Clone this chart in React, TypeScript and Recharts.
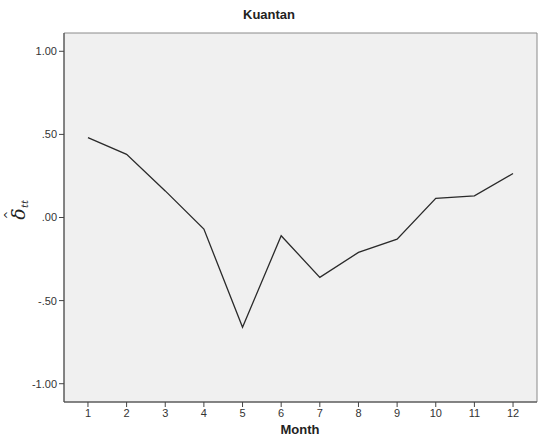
import React from "react";
import {
  LineChart,
  Line,
  XAxis,
  YAxis,
  ReferenceArea,
  Customized,
} from "recharts";

// Kuantan monthly values
const months = [1, 2, 3, 4, 5, 6, 7, 8, 9, 10, 11, 12];
const deltaValues = [0.48, 0.38, 0.16, -0.07, -0.66, -0.11, -0.36, -0.21, -0.13, 0.115, 0.13, 0.265];
const yTicks = [-1, -0.5, 0, 0.5, 1];

const data = months.map((m, i) => ({ month: m, delta: deltaValues[i] }));

const X_DOMAIN: [number, number] = [0.38, 12.62];
const Y_DOMAIN: [number, number] = [-1.11, 1.11];

// SPSS style: drop the leading zero, ".50" / "-.50"
const fmtY = (v: number) => v.toFixed(2).replace(/^(-?)0\./, "$1.");

const font = "Arial, 'Liberation Sans', sans-serif";

export default function App() {
  return (
    <div style={{ position: "absolute", left: 0, top: 0, background: "#fff" }}>
      <LineChart width={538} height={439} data={data} margin={{ top: 33, right: 1, bottom: 7, left: 0 }}>
        <ReferenceArea
          x1={X_DOMAIN[0]}
          x2={X_DOMAIN[1]}
          y1={Y_DOMAIN[0]}
          y2={Y_DOMAIN[1]}
          fill="#f0f0f0"
          fillOpacity={1}
          stroke="#8a8a8a"
          strokeWidth={1}
        />
        <XAxis
          dataKey="month"
          type="number"
          domain={X_DOMAIN}
          ticks={months}
          allowDataOverflow
          height={30}
          stroke="#444"
          tickSize={5}
          tick={{ fill: "#333", fontSize: 11, fontFamily: font }}
        />
        <YAxis
          type="number"
          domain={Y_DOMAIN}
          ticks={yTicks}
          allowDataOverflow
          width={64}
          stroke="#444"
          tickSize={5}
          tickFormatter={fmtY}
          tick={{ fill: "#333", fontSize: 11, fontFamily: font }}
        />
        <Line
          type="linear"
          dataKey="delta"
          stroke="#2a2a2a"
          strokeWidth={1.3}
          dot={false}
          isAnimationActive={false}
        />
        <Customized
          component={() => (
            <g>
              <text x={269} y={19} textAnchor="middle" fontFamily={font} fontSize={13} fontWeight="bold" fill="#222">
                Kuantan
              </text>
              <text x={300} y={434} textAnchor="middle" fontFamily={font} fontSize={13} fontWeight="bold" fill="#222">
                Month
              </text>
              {/* y label: delta-hat with subscript tt, rotated */}
              <g transform="translate(25, 214) rotate(-90)">
                <text
                  x={0}
                  y={0}
                  textAnchor="middle"
                  fontFamily="'DejaVu Serif', serif"
                  fontStyle="italic"
                  fontSize={19}
                  fill="#222"
                >
                  δ
                </text>
                <text x={-1} y={-13} textAnchor="middle" fontFamily="'DejaVu Sans', sans-serif" fontSize={10} fill="#222">
                  ^
                </text>
                <text x={6} y={3} fontFamily="'DejaVu Serif', serif" fontStyle="italic" fontSize={10} fill="#222">
                  tt
                </text>
              </g>
            </g>
          )}
        />
      </LineChart>
    </div>
  );
}
